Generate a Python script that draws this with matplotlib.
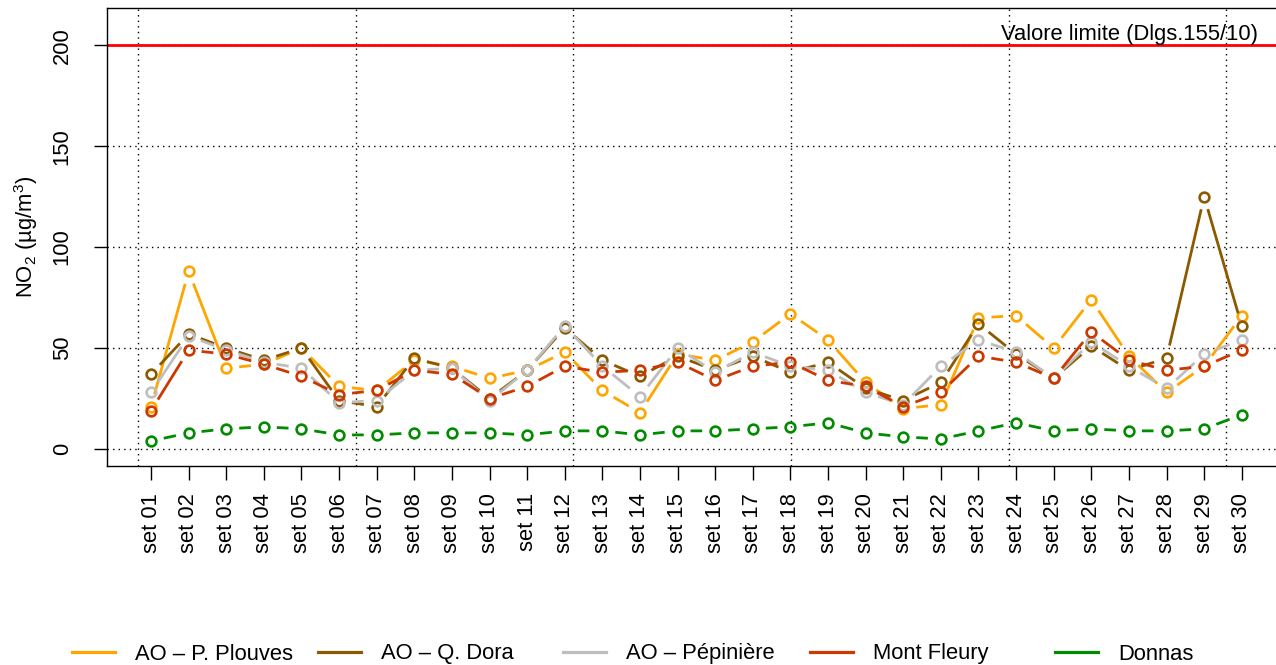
import matplotlib
matplotlib.use('Agg')
import matplotlib.pyplot as plt
from matplotlib.lines import Line2D
import numpy as np

plt.rcParams['font.family'] = ['Liberation Sans', 'DejaVu Sans']
plt.rcParams['mathtext.fontset'] = 'custom'
plt.rcParams['mathtext.rm'] = 'Liberation Sans'
plt.rcParams['mathtext.it'] = 'Liberation Sans:italic'
plt.rcParams['mathtext.default'] = 'regular'

# dati NO2 settembre 2014
days = np.arange(1, 31)
day_labels = ['set %02d' % d for d in days]

plouves = [21, 88, 40, 42, 50, 31, 29, 44, 41, 35, 39, 48, 29, 18, 47,
           44, 53, 67, 54, 33, 20, 22, 65, 66, 50, 74, 46, 28, 41, 66]
dora = [37, 57, 50, 44, 50, 24, 21, 45, 40, 25, 39, 60, 44, 36, 46,
        39, 46, 38, 43, 30, 24, 33, 62, 47, 35, 51, 39, 45, 125, 61]
pepiniere = [28, 56, 49, 43, 40, 23, 24, 39, 40, 24, 39, 61, 41, 26, 50,
             38, 48, 41, 39, 28, 22, 41, 54, 48, 35, 53, 41, 30, 47, 54]
mont_fleury = [19, 49, 47, 42, 36, 27, 29, 39, 37, 25, 31, 41, 38, 39, 43,
               34, 41, 43, 34, 31, 21, 28, 46, 43, 35, 58, 44, 39, 41, 49]
donnas = [4, 8, 10, 11, 10, 7, 7, 8, 8, 8, 7, 9, 9, 7, 9,
          9, 10, 11, 13, 8, 6, 5, 9, 13, 9, 10, 9, 9, 10, 17]

series_names = ['AO – P. Plouves', 'AO – Q. Dora', 'AO – Pépinière', 'Mont Fleury', 'Donnas']
series_values = [plouves, dora, pepiniere, mont_fleury, donnas]
colori = ['#FFA500', '#8B5A00', '#BEBEBE', '#CD3700', '#008B00']

limite = 200
fs = 15.8

fig = plt.figure(figsize=(12.76, 6.65), dpi=100)
ax = fig.add_axes([107.4 / 1276, 1 - 466 / 665, 1178 / 1276, 458 / 665])

ax.set_xlim(1 - 0.04 * 29, 30 + 0.04 * 29)
ax.set_ylim(-0.04 * 210, 210 * 1.04)

# griglia: in R l'asse era POSIXct, le linee cadono ogni 500000 s
t0 = 1409529600  # 2014-09-01 00:00 UTC
xmin, xmax = ax.get_xlim()
k0 = int(np.ceil((t0 + (xmin - 1) * 86400) / 5e5))
k1 = int(np.floor((t0 + (xmax - 1) * 86400) / 5e5))
for k in range(k0, k1 + 1):
    ax.axvline(1 + (k * 5e5 - t0) / 86400, color='black', lw=1, ls=(0, (1, 3)), zorder=1)
for yv in [0, 50, 100, 150, 200]:
    ax.axhline(yv, color='black', lw=1, ls=(0, (1, 3)), zorder=1)

ax.axhline(limite, color='red', lw=2, zorder=2)
ax.text(30.43, limite, 'Valore limite (Dlgs.155/10)', ha='right', va='bottom', fontsize=fs)


def tipo_b(x, y, gap=13):
    # linee interrotte attorno ai punti, come type = "b" in R
    pts = ax.transData.transform(np.column_stack([x, y]))
    inv = ax.transData.inverted()
    xs, ys = [], []
    for p0, p1 in zip(pts[:-1], pts[1:]):
        d = p1 - p0
        L = np.hypot(d[0], d[1])
        if L <= 2 * gap:
            continue
        u = d / L
        a = inv.transform(p0 + u * gap)
        b = inv.transform(p1 - u * gap)
        xs += [a[0], b[0], np.nan]
        ys += [a[1], b[1], np.nan]
    return xs, ys


for vals, col in zip(series_values, colori):
    sx, sy = tipo_b(days, vals)
    ax.plot(sx, sy, color=col, lw=2.0, solid_capstyle='butt', zorder=3)
    ax.plot(days, vals, ls='none', marker='o', ms=7, mfc='none', mec=col, mew=1.9, zorder=3)

ax.set_xticks(days)
ax.set_xticklabels(day_labels, rotation=90, fontsize=fs)
ax.set_yticks([0, 50, 100, 150, 200])
ax.set_yticklabels(['0', '50', '100', '150', '200'], fontsize=fs)
for lbl in ax.get_yticklabels():
    lbl.set_rotation(90)
    lbl.set_va('center')
ax.tick_params(axis='x', length=10, width=1, pad=9.4)
ax.tick_params(axis='y', length=9.4, width=1, pad=15.5)
for sp in ax.spines.values():
    sp.set_linewidth(1)

ax.set_ylabel('NO$_2$ (µg/m$^3$)', fontsize=fs)
ax.yaxis.set_label_coords(-0.057, 0.5)

# legenda orizzontale in basso, colonne di uguale larghezza
leg_x = [72, 318, 563, 810, 1055]
for name, col, lx in zip(series_names, colori, leg_x):
    h = Line2D([], [], color=col, lw=2.3)
    fig.legend(handles=[h], labels=[name], loc='center left',
               bbox_to_anchor=(lx / 1276, 1 - 654 / 665), frameon=False,
               fontsize=fs, borderpad=0, borderaxespad=0,
               handlelength=1.96, handletextpad=0.91)

fig.savefig('out.png', dpi=100)
